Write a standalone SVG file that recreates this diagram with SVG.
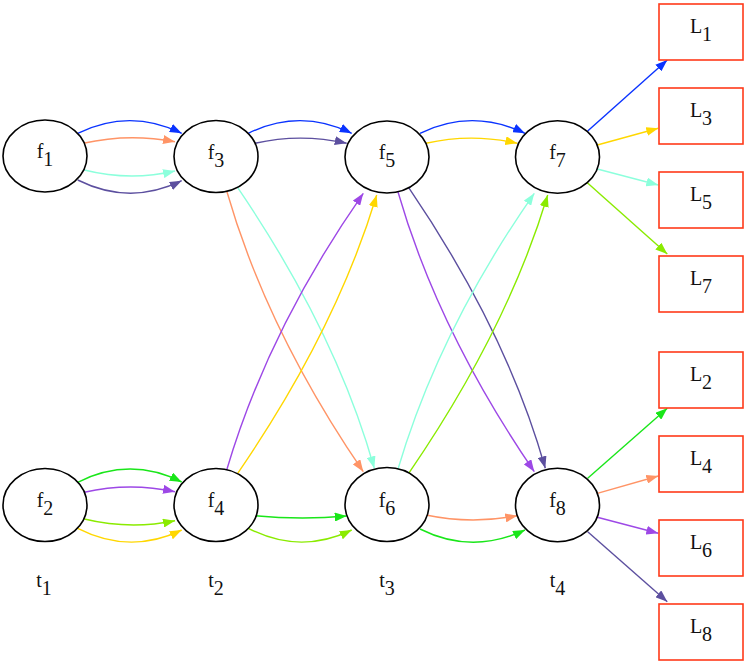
<svg xmlns="http://www.w3.org/2000/svg" width="747" height="664" viewBox="0 0 747 664">
<style>
.n{fill:#fff;stroke:#000;stroke-width:1.6}
.b{fill:#fff;stroke:#ff3a1a;stroke-width:1.6}
.t{font-family:"Liberation Serif","Times New Roman",serif;font-size:20px;fill:#111;text-anchor:middle}
.e{fill:none;stroke-width:1.4}
.c1{stroke:#0a33ff;marker-end:url(#a1)}
.c2{stroke:#ff9466;marker-end:url(#a2)}
.c3{stroke:#8cffdc;marker-end:url(#a3)}
.c4{stroke:#5c4f9f;marker-end:url(#a4)}
.c5{stroke:#19e619;marker-end:url(#a5)}
.c6{stroke:#9d48e6;marker-end:url(#a6)}
.c7{stroke:#8aeb00;marker-end:url(#a7)}
.c8{stroke:#ffd700;marker-end:url(#a8)}
</style>
<defs>
<marker id="a1" viewBox="0 0 12 9" refX="12" refY="4.5" markerWidth="12" markerHeight="9" markerUnits="userSpaceOnUse" orient="auto"><path d="M0,0L12,4.5L0,9z" fill="#0a33ff"/></marker>
<marker id="a2" viewBox="0 0 12 9" refX="12" refY="4.5" markerWidth="12" markerHeight="9" markerUnits="userSpaceOnUse" orient="auto"><path d="M0,0L12,4.5L0,9z" fill="#ff9466"/></marker>
<marker id="a3" viewBox="0 0 12 9" refX="12" refY="4.5" markerWidth="12" markerHeight="9" markerUnits="userSpaceOnUse" orient="auto"><path d="M0,0L12,4.5L0,9z" fill="#8cffdc"/></marker>
<marker id="a4" viewBox="0 0 12 9" refX="12" refY="4.5" markerWidth="12" markerHeight="9" markerUnits="userSpaceOnUse" orient="auto"><path d="M0,0L12,4.5L0,9z" fill="#5c4f9f"/></marker>
<marker id="a5" viewBox="0 0 12 9" refX="12" refY="4.5" markerWidth="12" markerHeight="9" markerUnits="userSpaceOnUse" orient="auto"><path d="M0,0L12,4.5L0,9z" fill="#19e619"/></marker>
<marker id="a6" viewBox="0 0 12 9" refX="12" refY="4.5" markerWidth="12" markerHeight="9" markerUnits="userSpaceOnUse" orient="auto"><path d="M0,0L12,4.5L0,9z" fill="#9d48e6"/></marker>
<marker id="a7" viewBox="0 0 12 9" refX="12" refY="4.5" markerWidth="12" markerHeight="9" markerUnits="userSpaceOnUse" orient="auto"><path d="M0,0L12,4.5L0,9z" fill="#8aeb00"/></marker>
<marker id="a8" viewBox="0 0 12 9" refX="12" refY="4.5" markerWidth="12" markerHeight="9" markerUnits="userSpaceOnUse" orient="auto"><path d="M0,0L12,4.5L0,9z" fill="#ffd700"/></marker>
</defs>
<rect width="747" height="664" fill="#fff"/>
<g id="connectors">
<path class="e c1" d="M77.7,133.3Q130,108 181.7,133.3"/>
<path class="e c2" d="M83.3,143.3Q128,133 175,141.7"/>
<path class="e c3" d="M84.3,170Q130,181.5 175,171"/>
<path class="e c4" d="M77.7,180Q130,206 181.7,180.7"/>
<path class="e c5" d="M77.7,482.3Q130,456 181.7,482"/>
<path class="e c6" d="M84.3,492.3Q129,482 175,491.7"/>
<path class="e c7" d="M84.3,519Q130,530 175,520.7"/>
<path class="e c8" d="M77.7,528.3Q130,555 181.7,530"/>
<path class="e c1" d="M248.3,133.3Q300,108 351.7,133.3"/>
<path class="e c4" d="M255,143.3Q300,133 346.7,143.3"/>
<path class="e c5" d="M255,515.7Q301,520 346.7,516"/>
<path class="e c7" d="M248.3,528.3Q300,555 351.7,530"/>
<path class="e c1" d="M420,133.3Q472,108 525,133.3"/>
<path class="e c8" d="M426,143.3Q471,133 517.3,143.3"/>
<path class="e c2" d="M426,515Q471,524.5 517.3,515.7"/>
<path class="e c5" d="M420,529Q472,555 525,530"/>
<path class="e c2" d="M226.7,191Q267,331 363.3,471.7"/>
<path class="e c3" d="M237.7,187.7Q336,332 374.3,468.3"/>
<path class="e c6" d="M226.7,470Q268,330 363.3,193.3"/>
<path class="e c8" d="M237.7,473.3Q336,330 376.7,195"/>
<path class="e c6" d="M397.7,191Q438,331 534.3,471.7"/>
<path class="e c4" d="M408.7,187.7Q507,332 545.3,468.3"/>
<path class="e c3" d="M397.7,470Q439,330 534.3,193.3"/>
<path class="e c7" d="M408.7,473.3Q507,330 547.7,195"/>
<path class="e c1" d="M587.7,131L667.3,60"/>
<path class="e c8" d="M597.3,145L658.3,128.3"/>
<path class="e c3" d="M597.3,169L658.3,185"/>
<path class="e c7" d="M587.3,182.7L667.3,254"/>
<path class="e c5" d="M587.7,478.3L667.3,408.3"/>
<path class="e c2" d="M597.3,493.3L658.3,476"/>
<path class="e c6" d="M597.3,517.3L658.3,533.3"/>
<path class="e c4" d="M587.7,531.7L667.3,601.7"/>
</g>
<g id="f1"><ellipse class="n" cx="45" cy="156" rx="42" ry="36"/><text class="t" x="45" y="158">f<tspan dy="8">1</tspan></text></g>
<g id="f2"><ellipse class="n" cx="45" cy="505" rx="42" ry="36.5"/><text class="t" x="45" y="507">f<tspan dy="8">2</tspan></text></g>
<g id="f3"><ellipse class="n" cx="216" cy="156.5" rx="42" ry="36"/><text class="t" x="216" y="158.5">f<tspan dy="8">3</tspan></text></g>
<g id="f4"><ellipse class="n" cx="216" cy="505" rx="42" ry="36.5"/><text class="t" x="216" y="507">f<tspan dy="8">4</tspan></text></g>
<g id="f5"><ellipse class="n" cx="387" cy="157" rx="42" ry="36"/><text class="t" x="387" y="159">f<tspan dy="8">5</tspan></text></g>
<g id="f6"><ellipse class="n" cx="387" cy="504.5" rx="42" ry="37"/><text class="t" x="387" y="506.5">f<tspan dy="8">6</tspan></text></g>
<g id="f7"><ellipse class="n" cx="557.5" cy="157" rx="42" ry="36.3"/><text class="t" x="557.5" y="159">f<tspan dy="8">7</tspan></text></g>
<g id="f8"><ellipse class="n" cx="557.5" cy="505" rx="42" ry="36.7"/><text class="t" x="557.5" y="507">f<tspan dy="8">8</tspan></text></g>
<g id="L1"><rect class="b" x="659" y="4" width="84" height="56"/><text class="t" x="701" y="33">L<tspan dy="8">1</tspan></text></g>
<g id="L3"><rect class="b" x="659" y="88" width="84" height="56"/><text class="t" x="701" y="117">L<tspan dy="8">3</tspan></text></g>
<g id="L5"><rect class="b" x="659" y="172" width="84" height="56"/><text class="t" x="701" y="201">L<tspan dy="8">5</tspan></text></g>
<g id="L7"><rect class="b" x="659" y="256" width="84" height="56"/><text class="t" x="701" y="285">L<tspan dy="8">7</tspan></text></g>
<g id="L2"><rect class="b" x="659" y="352" width="84" height="56"/><text class="t" x="701" y="381">L<tspan dy="8">2</tspan></text></g>
<g id="L4"><rect class="b" x="659" y="436" width="84" height="56"/><text class="t" x="701" y="465">L<tspan dy="8">4</tspan></text></g>
<g id="L6"><rect class="b" x="659" y="520" width="84" height="56"/><text class="t" x="701" y="549">L<tspan dy="8">6</tspan></text></g>
<g id="L8"><rect class="b" x="659" y="604" width="84" height="56"/><text class="t" x="701" y="633">L<tspan dy="8">8</tspan></text></g>
<g id="times">
<text class="t" x="44" y="587">t<tspan dy="7.5">1</tspan></text>
<text class="t" x="216" y="587">t<tspan dy="7.5">2</tspan></text>
<text class="t" x="387" y="587">t<tspan dy="7.5">3</tspan></text>
<text class="t" x="557.5" y="587">t<tspan dy="7.5">4</tspan></text>
</g>
</svg>
